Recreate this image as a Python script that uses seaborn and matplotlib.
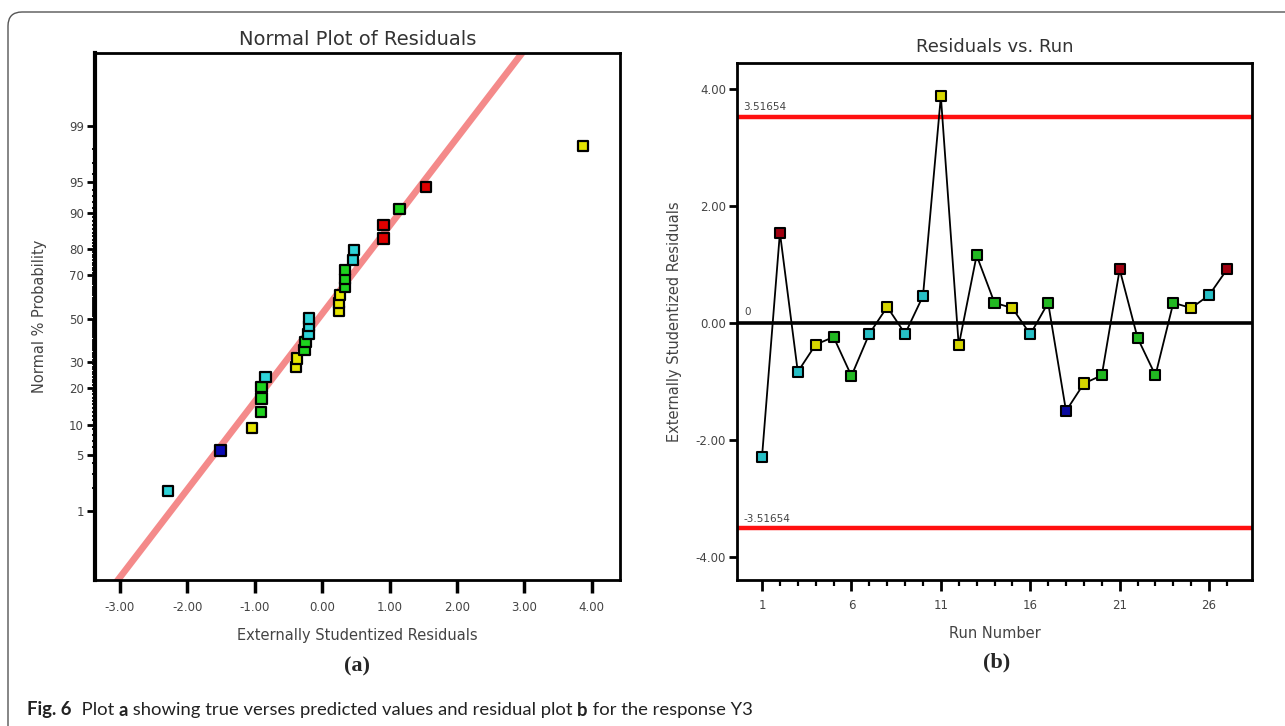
import numpy as np
import pandas as pd
import matplotlib
matplotlib.use("Agg")
import matplotlib.pyplot as plt
import seaborn as sns
from statistics import NormalDist
from matplotlib.patches import FancyBboxPatch

# ---------------- data ----------------
runs = list(range(1, 28))
residuals = [-2.29, 1.54, -0.84, -0.375, -0.245, -0.91, -0.19, 0.27, -0.19, 0.455,
             3.87, -0.39, 1.15, 0.34, 0.25, -0.20, 0.34, -1.51, -1.04, -0.90,
             0.91, -0.26, -0.90, 0.34, 0.25, 0.47, 0.91]
point_groups = ["cyan", "red", "cyan", "yellow", "green", "green", "cyan", "yellow", "cyan", "cyan",
                "yellow", "yellow", "green", "green", "yellow", "cyan", "green", "blue", "yellow", "green",
                "red", "green", "green", "green", "yellow", "cyan", "red"]
limit_value = 3.51654
prob_ticks = [1, 5, 10, 20, 30, 50, 70, 80, 90, 95, 99]
prob_minor = [2, 3, 4, 6, 7, 8, 9] + list(range(11, 90)) + [91, 92, 93, 94, 96, 97, 98]
resid_ticks = [-3, -2, -1, 0, 1, 2, 3, 4]
run_major = [1, 6, 11, 16, 21, 26]
resid_b_ticks = [-4, -2, 0, 2, 4]
fit_slope, fit_intercept = 1.062, 0.058

palette_a = {"cyan": "#2ED3D8", "red": "#E00000", "yellow": "#E6E600",
             "green": "#1ED21E", "blue": "#0A0AB4"}
palette_b = {"cyan": "#27BFC6", "red": "#A00010", "yellow": "#D6D600",
             "green": "#22B822", "blue": "#0A0AA0"}

nd = NormalDist()
df = pd.DataFrame({"run": runs, "resid": residuals, "grp": point_groups})
dfa = df.sort_values("resid", kind="stable").reset_index(drop=True)
n = len(dfa)
dfa["z"] = [nd.inv_cdf((i + 0.5) / n) for i in range(n)]

# ---------------- figure ----------------
sns.set_theme(style="white")
plt.rcParams["font.family"] = ["DejaVu Sans"]
W, H = 1285, 726
fig = plt.figure(figsize=(W / 100, H / 100), dpi=100)

txt_col = "#444444"

# ---- panel (a) ----
axa = fig.add_axes([95 / W, 1 - 580 / H, (620 - 95) / W, (580 - 53) / H])
xl = np.array([-3.6, 4.6])
axa.plot(xl, fit_slope * xl + fit_intercept, color="#F48A8A", lw=4.8,
         solid_capstyle="butt", zorder=1)
sns.scatterplot(data=dfa, x="resid", y="z", hue="grp", palette=palette_a,
                marker="s", s=55, edgecolor="black", linewidth=1.6,
                legend=False, ax=axa, zorder=3)
axa.set_xlim(-3.37, 4.42)
axa.set_ylim(-3.16, 3.21)
axa.set_yticks([nd.inv_cdf(p / 100) for p in prob_ticks])
axa.set_yticklabels([str(p) for p in prob_ticks])
axa.set_yticks([nd.inv_cdf(p / 100) for p in prob_minor], minor=True)
axa.set_xticks(resid_ticks)
axa.set_xticklabels([f"{v:.2f}" for v in resid_ticks])
axa.tick_params(axis="y", which="major", direction="out", length=6, width=2,
                color="black", labelsize=8.5, labelcolor=txt_col, pad=2, left=True)
axa.tick_params(axis="y", which="minor", direction="out", length=2.5, width=1.3,
                color="black", left=True)
axa.tick_params(axis="x", which="major", direction="out", length=9, width=2.5,
                color="black", labelsize=8.5, labelcolor=txt_col, pad=6, bottom=True)
for s in axa.spines.values():
    s.set_color("black")
    s.set_linewidth(2)
axa.spines["left"].set_linewidth(3)
axa.set_title("Normal Plot of Residuals", fontsize=14, color="#333333", pad=6)
axa.set_xlabel("Externally Studentized Residuals", fontsize=10.5, color=txt_col, labelpad=10)
axa.set_ylabel("Normal % Probability", fontsize=10.5, color=txt_col, labelpad=16)

# ---- panel (b) ----
axb = fig.add_axes([737 / W, 1 - 580 / H, (1252 - 737) / W, (580 - 63) / H])
axb.axhline(limit_value, color="#FF1010", lw=3.2, zorder=1)
axb.axhline(-limit_value, color="#FF1010", lw=3.2, zorder=1)
axb.axhline(0, color="black", lw=2.6, zorder=1)
sns.lineplot(data=df, x="run", y="resid", color="black", lw=1.3, ax=axb, zorder=2)
sns.scatterplot(data=df, x="run", y="resid", hue="grp", palette=palette_b,
                marker="s", s=52, edgecolor="black", linewidth=1.5,
                legend=False, ax=axb, zorder=3)
axb.set_xlim(-0.4, 28.4)
axb.set_ylim(-4.4, 4.44)
axb.set_xticks(run_major)
axb.set_xticklabels([str(v) for v in run_major])
axb.set_xticks(runs, minor=True)
axb.set_yticks(resid_b_ticks)
axb.set_yticklabels([f"{v:.2f}" for v in resid_b_ticks])
axb.tick_params(axis="x", which="major", direction="out", length=8, width=2,
                color="black", labelsize=8.5, labelcolor=txt_col, pad=6, bottom=True)
axb.tick_params(axis="x", which="minor", direction="out", length=4, width=1.6,
                color="black", bottom=True)
axb.tick_params(axis="y", which="major", direction="out", length=6, width=2,
                color="black", labelsize=8.5, labelcolor=txt_col, pad=2, left=True)
for s in axb.spines.values():
    s.set_color("black")
    s.set_linewidth(2)
axb.text(0.012, limit_value + 0.08, f"{limit_value:.5f}", transform=axb.get_yaxis_transform(),
         fontsize=7.5, color=txt_col, va="bottom", ha="left")
axb.text(0.012, -limit_value + 0.08, f"{-limit_value:.5f}", transform=axb.get_yaxis_transform(),
         fontsize=7.5, color=txt_col, va="bottom", ha="left")
axb.text(0.015, 0.1, "0", transform=axb.get_yaxis_transform(),
         fontsize=7.5, color=txt_col, va="bottom", ha="left")
axb.set_title("Residuals vs. Run", fontsize=13, color="#333333", pad=8)
axb.set_xlabel("Run Number", fontsize=10.5, color=txt_col, labelpad=10)
axb.set_ylabel("Externally Studentized Residuals", fontsize=10.5, color=txt_col, labelpad=10)

# ---- panel letters ----
fig.text(357 / W, 1 - 666 / H, "(a)", fontsize=16, fontweight="bold",
         family=["Liberation Serif"], ha="center", va="center")
fig.text(997 / W, 1 - 662 / H, "(b)", fontsize=16, fontweight="bold",
         family=["Liberation Serif"], ha="center", va="center")

# ---- caption (mixed weights) ----
pieces = [("Fig. 6", "bold"), ("  Plot ", "normal"), ("a", "bold"),
          (" showing true verses predicted values and residual plot ", "normal"),
          ("b", "bold"), (" for the response Y3", "normal")]
renderer = fig.canvas.get_renderer()
xpix = 27
for t, wgt in pieces:
    tt = fig.text(xpix / W, 1 - 710 / H, t, fontsize=13.3, fontweight=wgt,
                  family=["Lato", "DejaVu Sans"], ha="left", va="center", color="#222222")
    bb = tt.get_window_extent(renderer=renderer)
    xpix += bb.width

# ---- rounded frame ----
frame = FancyBboxPatch((8, -40), W + 40, (H - 12) + 40,
                       boxstyle="round,pad=0,rounding_size=14",
                       transform=None, fill=False, edgecolor="#555555", lw=1.0)
fig.patches.append(frame)

fig.savefig("out.png", dpi=100)
